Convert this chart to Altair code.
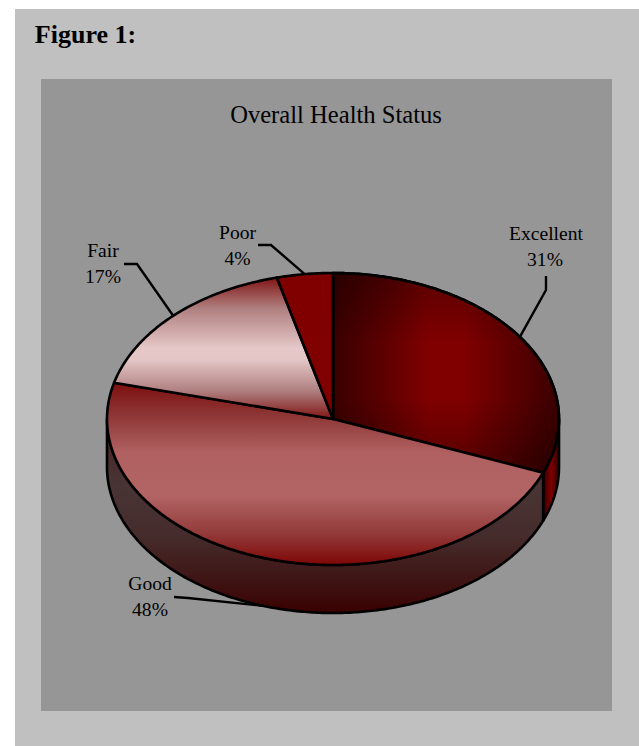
import numpy as np
import altair as alt

# Survey results
categories = ["Excellent", "Good", "Fair", "Poor"]
shares = [31, 48, 17, 4]
chart_title = "Overall Health Status"
figure_label = "Figure 1:"

W, H = 639, 746
CX, CY, RX, RY, DEPTH = 333, 419, 226, 146, 48

edges = np.cumsum([0] + shares) / sum(shares) * 2 * np.pi


def rim(theta, drop=0.0):
    """Point on the disc rim, clockwise from twelve o'clock."""
    return [CX + RX * np.sin(theta), CY - RY * np.cos(theta) + drop]


def arc(a, b, drop=0.0):
    n = max(int(abs(b - a) * 90), 2)
    return [rim(t, drop) for t in np.linspace(a, b, n)]


def shape(geometry):
    values = {"type": "FeatureCollection",
              "features": [{"type": "Feature", "properties": {}, "geometry": geometry}]}
    return alt.Data(values=values, format=alt.DataFormat(type="json", property="features"))


def slice_top(i):
    ring = [[CX, CY]] + arc(edges[i], edges[i + 1]) + [[CX, CY]]
    return shape({"type": "Polygon", "coordinates": [ring]})


def wall(a, b):
    ring = arc(a, b) + arc(b, a, DEPTH)
    ring.append(ring[0])
    return shape({"type": "Polygon", "coordinates": [ring]})


def gradient(stops, horizontal=False):
    return alt.Gradient(
        gradient="linear",
        x1=0, y1=0,
        x2=1 if horizontal else 0,
        y2=0 if horizontal else 1,
        stops=[alt.GradientStop(offset=o, color=c) for o, c in stops],
    )


projection = alt.Projection(type="identity", scale=1, translate=[0, 0])


def poly(data, fill, stroke="#000000", stroke_width=2.6):
    kwargs = {"fill": fill, "strokeJoin": "round"}
    if stroke:
        kwargs.update(stroke=stroke, strokeWidth=stroke_width)
    else:
        kwargs.update(strokeWidth=0)
    return alt.Chart(data).mark_geoshape(**kwargs).project(**projection.to_dict())


def box(x0, x1, y0, y1, color):
    return alt.Chart(alt.Data(values=[{}])).mark_rect(color=color).encode(
        x=alt.value(x0), x2=alt.value(x1), y=alt.value(y0), y2=alt.value(y1)
    )


def text(label, x, y, size, weight="normal"):
    return alt.Chart(alt.Data(values=[{}])).mark_text(
        text=label, font="Liberation Serif", fontSize=size, fontWeight=weight,
        color="#000000", align="center", baseline="alphabetic",
    ).encode(x=alt.value(x), y=alt.value(y))


def leader(i, elbow, end, drop=0.0):
    anchor = rim((edges[i] + edges[i + 1]) / 2, drop)
    line = shape({"type": "LineString", "coordinates": [anchor, elbow, end]})
    return alt.Chart(line).mark_geoshape(
        filled=False, stroke="#000000", strokeWidth=2.4, strokeJoin="miter", fillOpacity=0
    ).project(**projection.to_dict())


excellent_base = gradient([(0, "#3a0000"), (0.22, "#5c0000"), (0.42, "#800000"),
                           (0.58, "#800000"), (0.8, "#5c0000"), (1, "#3a0000")], horizontal=True)
excellent_shade = gradient([(0, "rgba(0,0,0,0.3)"), (0.35, "rgba(0,0,0,0)"),
                            (0.62, "rgba(0,0,0,0)"), (1, "rgba(0,0,0,0.35)")])
good_fill = gradient([(0, "#7c0e0e"), (0.18, "#8e3636"), (0.38, "#b06060"), (0.62, "#b26464"),
                      (0.82, "#943c3c"), (1, "#7e0606")])
fair_fill = gradient([(0, "#801414"), (0.22, "#b08080"), (0.5, "#e6c8c8"), (0.58, "#e4c6c6"),
                      (0.8, "#b08080"), (1, "#801414")])
poor_fill = "#800000"
good_wall = gradient([(0, "#4a2424"), (0.35, "#483434"), (0.6, "#462c2c"),
                      (0.85, "#3e1212"), (1, "#3a0000")])
excellent_wall = gradient([(0, "#300000"), (0.5, "#800000"), (1, "#300000")], horizontal=True)

layers = [
    box(15, W, 9, H, "#c0c0c0"),
    box(41, 612, 79, 711, "#969696"),
    text(figure_label, 85.5, 43, 26, "bold"),
    text(chart_title, 336, 123, 24.6),
    # side of the disc
    poly(wall(np.pi / 2, edges[1]), excellent_wall),
    poly(wall(edges[1], 3 * np.pi / 2), good_wall),
    # top of the disc
    poly(slice_top(0), excellent_base),
    poly(slice_top(0), excellent_shade, stroke=None),
    poly(slice_top(0), "rgba(0,0,0,0)"),
    poly(slice_top(1), good_fill),
    poly(slice_top(2), fair_fill),
    poly(slice_top(3), poor_fill),
    # leaders and value labels
    leader(0, [546, 290], [546, 276]),
    leader(1, [188, 598], [174, 597], DEPTH),
    leader(2, [137, 264], [124, 264]),
    leader(3, [271, 245], [258, 245]),
]

label_spots = {"Excellent": (546, 240), "Good": (150, 590), "Fair": (103, 257), "Poor": (237.5, 239)}
for name, value in zip(categories, shares):
    x, y = label_spots[name]
    layers.append(text(name, x, y, 19.6))
    layers.append(text(f"{value}%", x - (1 if name == "Excellent" else 0), y + 26, 19.6))

chart = alt.layer(*layers).properties(
    width=W, height=H, padding=0,
    autosize=alt.AutoSizeParams(type="none"),
    background="#ffffff",
).configure_view(stroke=None)

chart.save("out.html", embed_options={"renderer": "svg", "actions": False})
